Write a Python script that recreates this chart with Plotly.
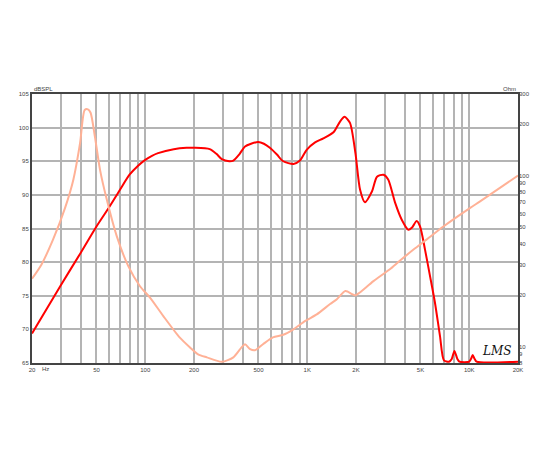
import plotly.graph_objects as go
import math

# SPL response (Hz, dB)
spl_freq = [20, 30, 40, 50, 60, 70, 80, 90, 100, 110, 120, 150, 180, 200, 250, 275, 297, 330,
            350, 380, 413, 450, 498, 540, 588, 650, 711, 822, 902, 992, 1118, 1258, 1452,
            1594, 1700, 1836, 1984, 2118, 2270, 2508, 2696, 2954, 3160, 3490, 3832, 4210,
            4420, 4740, 4970, 5330, 5720, 6140, 6600, 6980, 7500, 7800, 8100, 8450, 8700,
            10000, 10300, 10500, 10800, 11100, 20000]
spl_db = [69.4, 76.5, 81.4, 85.3, 88.2, 90.8, 93.0, 94.3, 95.2, 95.8, 96.2, 96.8, 97.0, 97.0,
          96.8, 96.1, 95.3, 95.0, 95.1, 96.0, 97.2, 97.6, 97.85, 97.6, 97.0, 96.0, 95.0,
          94.6, 95.1, 96.7, 97.8, 98.4, 99.3, 100.9, 101.6, 100.7, 96.2, 90.8, 88.9, 90.5,
          92.7, 93.0, 92.3, 88.8, 86.3, 84.8, 85.1, 86.1, 85.3, 81.9, 78.0, 74.0, 69.0, 65.4,
          65.2, 65.6, 66.8, 65.6, 65.2, 65.2, 65.7, 66.2, 65.6, 65.2, 65.2]

# Impedance (Hz, Ohm)
imp_freq = [20, 22.9, 27, 32, 36, 39.6, 42.3, 44.3, 46, 48.9, 52.6, 57.9, 66.7, 78.6, 92.8,
            107, 129, 163, 189, 212, 240, 297, 350, 393, 413, 444, 476, 533, 614, 711, 822,
            973, 1145, 1384, 1524, 1720, 1902, 1984, 2100, 2563, 3220, 3710, 4530, 5470,
            6960, 10140, 11670, 20000]
imp_ohm = [24.9, 30.2, 42.3, 64.7, 94.6, 154.6, 242, 244, 233, 169, 108, 72.3, 44.2, 29.5,
           22.5, 19.3, 15.1, 11.3, 9.87, 9.0, 8.63, 8.13, 8.63, 9.87, 10.3, 9.64, 9.5, 10.3,
           11.3, 11.7, 12.6, 14.1, 15.4, 17.7, 18.9, 21.1, 20.2, 19.9, 20.6, 24.1, 28.2, 31.6,
           36.9, 42.3, 50.5, 64.7, 70.6, 100]

# Axis ticks
x_grid = [20, 30, 40, 50, 60, 70, 80, 90, 100, 200, 300, 400, 500, 600, 700, 800, 900,
          1000, 2000, 3000, 4000, 5000, 6000, 7000, 8000, 9000, 10000, 20000]
x_labels = {20: "20", 50: "50", 100: "100", 200: "200", 500: "500", 1000: "1K",
            2000: "2K", 5000: "5K", 10000: "10K", 20000: "20K"}
y_ticks = [65, 70, 75, 80, 85, 90, 95, 100, 105]
ohm_ticks = [8, 9, 10, 20, 30, 40, 50, 60, 70, 80, 90, 100, 200, 300]

tickfont = dict(family="Liberation Sans, Arial, sans-serif", size=6, color="#444444")

fig = go.Figure()
fig.add_trace(go.Scatter(x=imp_freq, y=imp_ohm, yaxis="y2", mode="lines",
                         line=dict(color="#ffb196", width=2, shape="spline", smoothing=0.7),
                         hoverinfo="skip", showlegend=False))
fig.add_trace(go.Scatter(x=spl_freq, y=spl_db, mode="lines",
                         line=dict(color="#ff0000", width=2, shape="spline", smoothing=0.7),
                         hoverinfo="skip", showlegend=False))

fig.update_layout(
    width=550, height=450,
    margin=dict(l=24, r=40, t=86, b=95),
    paper_bgcolor="white", plot_bgcolor="white",
    xaxis=dict(type="log", range=[math.log10(20), math.log10(20000)],
               tickvals=x_grid, ticktext=[x_labels.get(v, "") for v in x_grid],
               showgrid=True, gridcolor="#b4b4b4", gridwidth=1.5,
               showline=True, linecolor="#444444", linewidth=2, mirror=True,
               ticks="", tickfont=tickfont, zeroline=False),
    yaxis=dict(range=[65, 105], tickvals=y_ticks,
               showgrid=True, gridcolor="#b4b4b4", gridwidth=1.5,
               showline=True, linecolor="#444444", linewidth=2, mirror=True,
               ticks="", tickfont=tickfont, zeroline=False),
    yaxis2=dict(type="log", range=[math.log10(8), math.log10(300)], overlaying="y",
                side="right", tickvals=ohm_ticks, ticktext=[str(v) for v in ohm_ticks],
                showgrid=False, ticks="", tickfont=tickfont, zeroline=False),
    annotations=[
        dict(text="dBSPL", xref="paper", yref="paper", x=0, y=1, xanchor="left",
             yanchor="bottom", showarrow=False, font=tickfont),
        dict(text="Ohm", xref="paper", yref="paper", x=1, y=1, xanchor="right",
             yanchor="bottom", showarrow=False, font=tickfont),
        dict(text="Hz", xref="paper", yref="paper", x=0, y=0, xanchor="left",
             yanchor="top", xshift=8, yshift=-1, showarrow=False, font=tickfont),
        dict(text="<i>LMS</i>", xref="paper", yref="paper", x=0.99, y=0.045,
             xanchor="right", yanchor="middle", showarrow=False,
             font=dict(family="DejaVu Serif", size=12, color="#111111")),
    ],
)

fig.write_html("out.html")
